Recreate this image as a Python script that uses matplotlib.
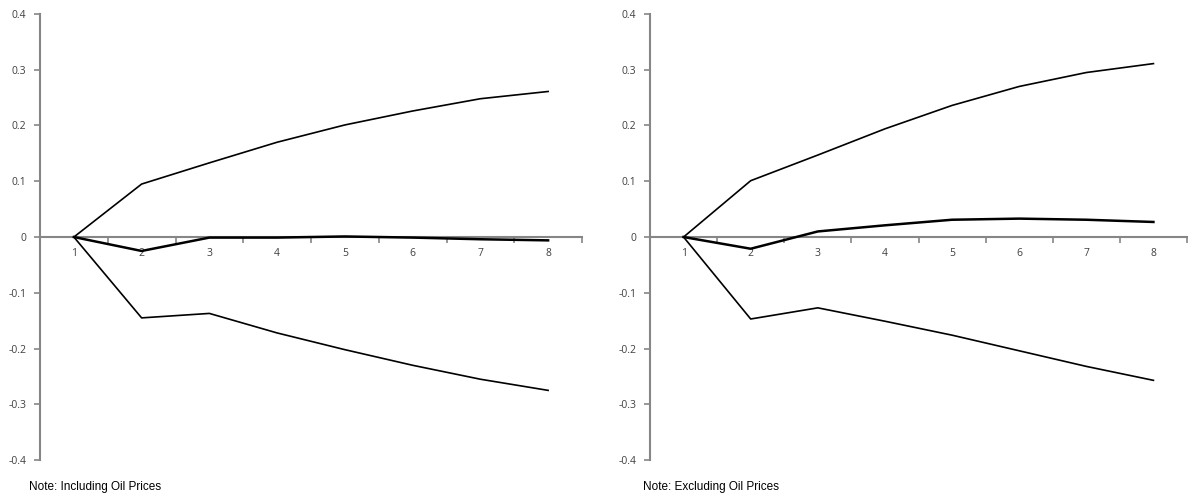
import numpy as np
import matplotlib.pyplot as plt
from matplotlib.ticker import FixedLocator, NullFormatter

# horizons
periods = [1, 2, 3, 4, 5, 6, 7, 8]

# including oil prices
inc_upper = [0, 0.095, 0.133, 0.170, 0.201, 0.226, 0.248, 0.261]
inc_mid = [0, -0.025, -0.001, -0.001, 0.001, -0.001, -0.004, -0.006]
inc_lower = [0, -0.145, -0.137, -0.172, -0.202, -0.230, -0.255, -0.275]

# excluding oil prices
exc_upper = [0, 0.101, 0.147, 0.194, 0.236, 0.270, 0.295, 0.311]
exc_mid = [0, -0.021, 0.010, 0.021, 0.031, 0.033, 0.031, 0.027]
exc_lower = [0, -0.147, -0.127, -0.151, -0.176, -0.204, -0.232, -0.257]

notes = ["Note: Including Oil Prices", "Note: Excluding Oil Prices"]
yticks = [-0.4, -0.3, -0.2, -0.1, 0, 0.1, 0.2, 0.3, 0.4]

axis_col = "#868686"
tick_font = ["Open Sans", "DejaVu Sans"]

fig = plt.figure(figsize=(11.92, 4.99), dpi=100)
boxes = [[40/1192, 0.078, 542/1192, 0.894],
         [650/1192, 0.078, 537/1192, 0.894]]
panels = [(inc_upper, inc_mid, inc_lower), (exc_upper, exc_mid, exc_lower)]
note_x = [29/1192, 643/1192]

for box, (up, mid, lo), note, nx in zip(boxes, panels, notes, note_x):
    ax = fig.add_axes(box)
    # lines sit on top of the axis line
    ax.plot(periods, up, color="black", lw=1.2, zorder=3)
    ax.plot(periods, lo, color="black", lw=1.2, zorder=3)
    ax.plot(periods, mid, color="black", lw=1.8, zorder=3)

    ax.set_xlim(0.5, 8.5)
    ax.set_ylim(-0.4, 0.4)

    for s in ["top", "right"]:
        ax.spines[s].set_visible(False)
    ax.spines["bottom"].set_position(("data", 0))
    ax.spines["bottom"].set_color(axis_col)
    ax.spines["left"].set_color(axis_col)
    ax.spines["bottom"].set_linewidth(1.5)
    ax.spines["left"].set_linewidth(1.5)

    ax.set_yticks(yticks)
    ax.set_yticklabels(["-0.4", "-0.3", "-0.2", "-0.1", "0", "0.1", "0.2", "0.3", "0.4"],
                       family=tick_font, fontsize=7.5, color="#404040")
    ax.tick_params(axis="y", direction="out", length=4, width=1.2, color=axis_col, pad=6)

    # category labels under the axis, tick marks between categories
    ax.set_xticks(periods)
    ax.set_xticklabels([str(p) for p in periods], family=tick_font, fontsize=7.5, color="#404040")
    ax.tick_params(axis="x", which="major", length=0, pad=8)
    ax.xaxis.set_minor_locator(FixedLocator(np.arange(1.5, 8.6, 1)))
    ax.xaxis.set_minor_formatter(NullFormatter())
    ax.tick_params(axis="x", which="minor", direction="out", length=4, width=1.2, color=axis_col)

    fig.text(nx, 1 - 487/499, note, fontsize=8.5, family=["Liberation Sans", "DejaVu Sans"],
             va="center", ha="left")

fig.savefig("out.png", dpi=100)
